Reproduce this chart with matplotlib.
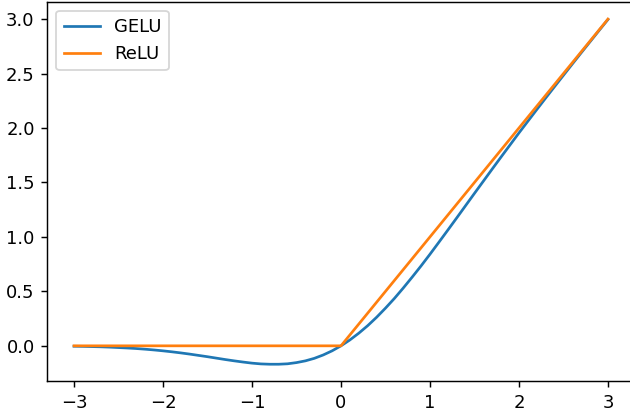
import numpy as np
import matplotlib
matplotlib.use("Agg")
import matplotlib.pyplot as plt

# sample points
x = [-3.0, -2.9, -2.8, -2.7, -2.6, -2.5, -2.4, -2.3, -2.2, -2.1,
     -2.0, -1.9, -1.8, -1.7, -1.6, -1.5, -1.4, -1.3, -1.2, -1.1,
     -1.0, -0.9, -0.8, -0.7, -0.6, -0.5, -0.4, -0.3, -0.2, -0.1,
     0.0, 0.1, 0.2, 0.3, 0.4, 0.5, 0.6, 0.7, 0.8, 0.9,
     1.0, 1.1, 1.2, 1.3, 1.4, 1.5, 1.6, 1.7, 1.8, 1.9,
     2.0, 2.1, 2.2, 2.3, 2.4, 2.5, 2.6, 2.7, 2.8, 2.9, 3.0]
gelu = [-0.004, -0.005, -0.007, -0.009, -0.012, -0.016, -0.020, -0.025, -0.031, -0.038,
        -0.046, -0.055, -0.065, -0.076, -0.088, -0.100, -0.113, -0.126, -0.138, -0.149,
        -0.159, -0.166, -0.169, -0.169, -0.165, -0.154, -0.138, -0.115, -0.084, -0.046,
        0.0, 0.054, 0.116, 0.185, 0.262, 0.346, 0.435, 0.531, 0.631, 0.734,
        0.841, 0.951, 1.062, 1.174, 1.287, 1.400, 1.512, 1.624, 1.735, 1.845,
        1.955, 2.062, 2.169, 2.275, 2.380, 2.484, 2.588, 2.691, 2.793, 2.895, 2.996]
relu_x = [-3.0, 0.0, 3.0]
relu = [0.0, 0.0, 3.0]

dpi = 130
fig, ax = plt.subplots(figsize=(630 / dpi, 411 / dpi), dpi=dpi)
# the original image is cut off just before the right spine
fig.subplots_adjust(left=0.0751, right=1.0074, top=0.9956, bottom=0.0718)

ax.plot(x, gelu, label="GELU")
ax.plot(relu_x, relu, label="ReLU")
ax.legend(loc="upper left")

fig.savefig("out.png", dpi=dpi)
